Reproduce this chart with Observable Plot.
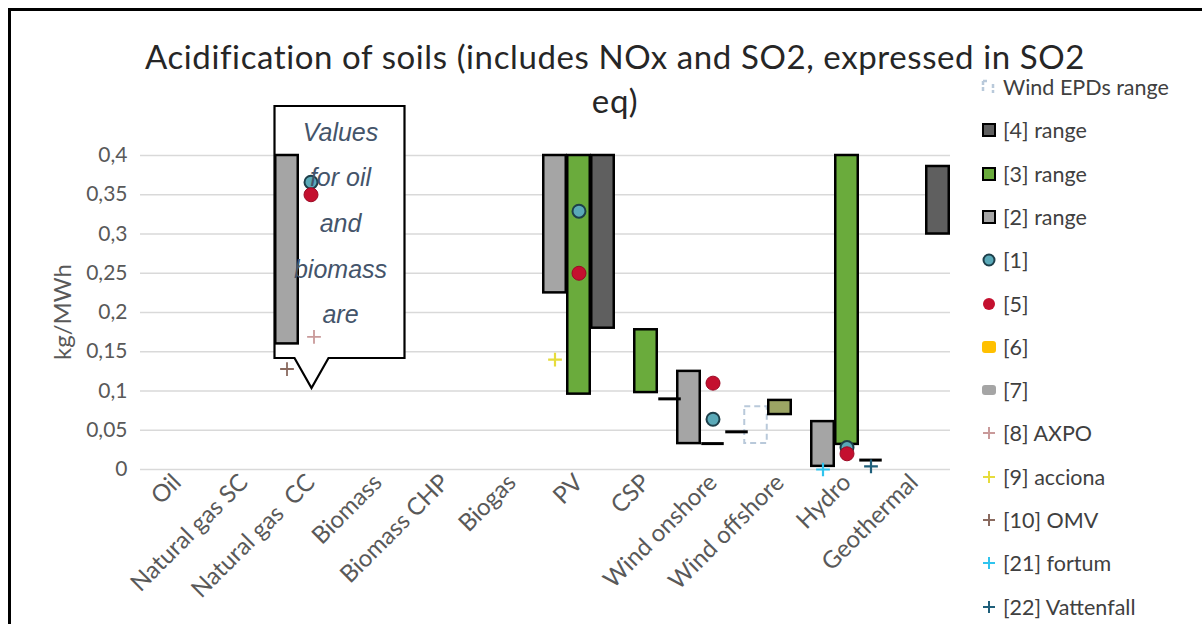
<!DOCTYPE html>
<html>
<head>
<meta charset="utf-8">
<script src="https://cdn.jsdelivr.net/npm/d3@7"></script>
<script src="https://cdn.jsdelivr.net/npm/@observablehq/plot@0.6"></script>
<style>
  html, body { margin: 0; padding: 0; background: #fff; }
  #wrap { position: relative; width: 1202px; height: 624px; overflow: hidden; font-family: Lato, "Open Sans", sans-serif; }
  #frame { position: absolute; left: 8px; top: 8px; width: 1200px; height: 620px; border-top: 3px solid #000; border-left: 3px solid #000; }
  .title { position: absolute; left: 0; width: 1230px; text-align: center; font-size: 33px; letter-spacing: 0.6px; color: #262626; line-height: 1; white-space: nowrap; }
  #ylabel { position: absolute; left: 62px; top: 312px; transform: translate(-50%, -50%) rotate(-90deg); font-size: 24px; color: #595959; white-space: nowrap; line-height: 1; }
  #legend { position: absolute; left: 978px; top: 0; }
  .li { position: absolute; left: 0; height: 26px; display: flex; align-items: center; font-size: 21.5px; color: #404040; white-space: nowrap; }
  .li svg { width: 22px; height: 22px; margin-right: 3px; }
  #chart { position: absolute; left: 0; top: 0; }
</style>
</head>
<body>
<div id="wrap">
  <div id="frame"></div>
  <div id="chart"></div>
  <div class="title" style="top:40px">Acidification of soils (includes NOx and SO2, expressed in SO2</div>
  <div class="title" style="top:84px">eq)</div>
  <div id="ylabel">kg/MWh</div>
  <div id="legend"></div>
</div>
<script>
// ---- categories ----
const categories = ["Oil", "Natural gas SC", "Natural gas\u00a0 CC", "Biomass", "Biomass CHP", "Biogas", "PV", "CSP", "Wind onshore", "Wind offshore", "Hydro", "Geothermal"];
const yTicks = [0, 0.05, 0.1, 0.15, 0.2, 0.25, 0.3, 0.35, 0.4];

// ---- range series (low / high) ----
const range2Cats = ["Natural gas\u00a0 CC", "PV", "Wind onshore", "Hydro"];
const range2Low  = [0.16, 0.225, 0.033, 0.004];
const range2High = [0.40, 0.40, 0.125, 0.061];

const range3Cats = ["PV", "CSP", "Wind onshore", "Wind offshore", "Hydro"];
const range3Low  = [0.096, 0.098, 0.033, 0.070, 0.032];
const range3High = [0.40, 0.178, 0.033, 0.088, 0.40];

const range4Cats = ["PV", "CSP", "Wind onshore", "Hydro", "Geothermal"];
const range4Low  = [0.18, 0.09, 0.048, 0.012, 0.30];
const range4High = [0.40, 0.09, 0.048, 0.012, 0.386];

const epdCats = ["Wind offshore"];
const epdLow  = [0.033];
const epdHigh = [0.080];

// ---- point series ----
const s1Cats = ["Natural gas\u00a0 CC", "PV", "Wind onshore", "Hydro"];
const s1Vals = [0.366, 0.329, 0.064, 0.028];
const s5Cats = ["Natural gas\u00a0 CC", "PV", "Wind onshore", "Hydro"];
const s5Vals = [0.35, 0.25, 0.11, 0.02];
const axpoCats = ["Natural gas\u00a0 CC"];
const axpoVals = [0.169];
const accionaCats = ["PV"];
const accionaVals = [0.14];
const omvCats = ["Natural gas\u00a0 CC"];
const omvVals = [0.128];
const fortumCats = ["Hydro"];
const fortumVals = [0.0];
const vattenfallCats = ["Hydro"];
const vattenfallVals = [0.004];

const calloutCat = "Natural gas\u00a0 CC";
const calloutLines = ["Values", "for oil", "and", "biomass", "are"];

// ---- helpers ----
const zipR = (c, lo, hi) => c.map((cat, i) => ({cat, low: lo[i], high: hi[i]}));
const zipP = (c, v) => c.map((cat, i) => ({cat, v: v[i]}));
const r2 = zipR(range2Cats, range2Low, range2High);
const r3 = zipR(range3Cats, range3Low, range3High);
const r4 = zipR(range4Cats, range4Low, range4High);
const epd = zipR(epdCats, epdLow, epdHigh);

const C = {
  r2: "#a5a5a5", r3: "#6aab3c", r3b: "#9ca564", r4: "#5f5f5f", epd: "#b9c9da",
  s1: "#5aa9b8", s1s: "#1d3f4a", s5: "#c4102f", s6: "#ffc000", s7: "#a5a5a5",
  axpo: "#c99a9a", acciona: "#e6dc3c", omv: "#8a6a5f", fortum: "#2fc4ee", vattenfall: "#1f5f7a"
};

const SLOT = 24;
const BARW = 23;
const INSET = (67.5 - BARW) / 2;
const fmt = d => String(d).replace(".", ",");

function rangeMarks(data, fill, dx) {
  return [
    Plot.barY(data.filter(d => d.high > d.low), {
      x: "cat", y1: "low", y2: "high", fill, stroke: "#000", strokeWidth: 2.5,
      insetLeft: INSET, insetRight: INSET, dx
    }),
    Plot.tickY(data.filter(d => d.high === d.low), {
      x: "cat", y: "low", stroke: "#000", strokeWidth: 3,
      insetLeft: INSET, insetRight: INSET, dx
    })
  ];
}

function calloutBox(index, scales, values, dimensions) {
  const x = scales.x;
  const bw = x.bandwidth ? x.bandwidth() : 0;
  const cx = x(calloutCat) + bw / 2;
  const top = dimensions.marginTop - 49;
  const bot = dimensions.marginTop + 203;
  const L = cx - 36, R = cx + 94;
  const g = d3.create("svg:g");
  g.append("path")
    .attr("d", `M${L},${top}H${R}V${bot}H${cx + 18}L${cx + 1},${bot + 30}L${cx - 16},${bot}H${L}Z`)
    .attr("fill", "#fff").attr("stroke", "#000").attr("stroke-width", 2.2);
  return g.node();
}

function calloutText(index, scales, values, dimensions) {
  const x = scales.x;
  const bw = x.bandwidth ? x.bandwidth() : 0;
  const cx = x(calloutCat) + bw / 2;
  const top = dimensions.marginTop - 49;
  const g = d3.create("svg:g");
  calloutLines.forEach((t, i) => {
    g.append("text")
      .attr("x", cx + 30).attr("y", top + 28 + i * 45.7)
      .attr("text-anchor", "middle").attr("dominant-baseline", "middle")
      .attr("font-family", "'Liberation Sans', Arial, sans-serif")
      .attr("font-style", "italic").attr("font-size", 25)
      .attr("fill", "#44546a").text(t);
  });
  return g.node();
}

const plot = Plot.plot({
  width: 1202, height: 624,
  marginLeft: 140, marginRight: 252, marginTop: 155, marginBottom: 155,
  style: {background: "transparent", fontFamily: "Lato, 'Open Sans', sans-serif", color: "#595959", overflow: "visible"},
  x: {type: "band", domain: categories, paddingInner: 0, paddingOuter: 0},
  y: {domain: [0, 0.4]},
  marks: [
    Plot.gridY(yTicks, {stroke: "#d9d9d9", strokeOpacity: 1, strokeWidth: 1.3}),
    calloutBox,
    Plot.axisY(yTicks, {tickFormat: fmt, tickSize: 0, tickPadding: 13, fontSize: 21, label: null}),
    Plot.axisX({tickSize: 0, tickPadding: 9, tickRotate: -45, fontSize: 24, label: null}),
    Plot.barY(epd, {x: "cat", y1: "low", y2: "high", fill: "none", stroke: C.epd, strokeWidth: 2,
      strokeDasharray: "6,4", insetLeft: INSET, insetRight: INSET, dx: -SLOT}),
    ...rangeMarks(r2, C.r2, -SLOT),
    ...rangeMarks(r3.filter(d => d.cat !== "Wind offshore"), C.r3, 0),
    ...rangeMarks(r3.filter(d => d.cat === "Wind offshore"), C.r3b, 0),
    ...rangeMarks(r4, C.r4, SLOT),
    Plot.dot(zipP(s1Cats, s1Vals), {x: "cat", y: "v", r: 6.5, fill: C.s1, stroke: C.s1s, strokeWidth: 2}),
    Plot.dot(zipP(s5Cats, s5Vals), {x: "cat", y: "v", r: 7, fill: C.s5, stroke: "#9c0a25", strokeWidth: 1}),
    Plot.dot(zipP(axpoCats, axpoVals), {x: "cat", y: "v", symbol: "plus", r: 4.5, stroke: C.axpo, strokeWidth: 1.8, dx: 3}),
    Plot.dot(zipP(omvCats, omvVals), {x: "cat", y: "v", symbol: "plus", r: 4.5, stroke: C.omv, strokeWidth: 1.8, dx: -SLOT}),
    Plot.dot(zipP(accionaCats, accionaVals), {x: "cat", y: "v", symbol: "plus", r: 4.5, stroke: C.acciona, strokeWidth: 2.2, dx: -SLOT}),
    Plot.dot(zipP(fortumCats, fortumVals), {x: "cat", y: "v", symbol: "plus", r: 4.5, stroke: C.fortum, strokeWidth: 2.2, dx: -SLOT}),
    Plot.dot(zipP(vattenfallCats, vattenfallVals), {x: "cat", y: "v", symbol: "plus", r: 4.5, stroke: C.vattenfall, strokeWidth: 2.2, dx: SLOT}),
    calloutText
  ]
});
document.getElementById("chart").appendChild(plot);

// ---- legend ----
const legendItems = [
  {label: "Wind EPDs range", icon: `<path d="M5,5 V17 M5,5 H10 M15,8 V17" stroke="${C.epd}" stroke-width="2.5" fill="none" stroke-dasharray="4,2"/>`},
  {label: "[4] range", icon: `<rect x="5" y="5" width="12" height="12" fill="${C.r4}" stroke="#000" stroke-width="2"/>`},
  {label: "[3] range", icon: `<rect x="5" y="5" width="12" height="12" fill="${C.r3}" stroke="#000" stroke-width="2"/>`},
  {label: "[2] range", icon: `<rect x="5" y="5" width="12" height="12" fill="${C.r2}" stroke="#000" stroke-width="2"/>`},
  {label: "[1]", icon: `<circle cx="11" cy="11" r="5.5" fill="${C.s1}" stroke="${C.s1s}" stroke-width="2"/>`},
  {label: "[5]", icon: `<circle cx="11" cy="11" r="6" fill="${C.s5}"/>`},
  {label: "[6]", icon: `<rect x="4" y="5" width="14" height="12" rx="3" fill="${C.s6}"/>`},
  {label: "[7]", icon: `<rect x="4" y="6" width="14" height="10" rx="3" fill="${C.s7}"/>`},
  {label: "[8] AXPO", icon: `<path d="M5,11H17M11,5V17" stroke="${C.axpo}" stroke-width="2"/>`},
  {label: "[9] acciona", icon: `<path d="M5,11H17M11,5V17" stroke="${C.acciona}" stroke-width="2"/>`},
  {label: "[10] OMV", icon: `<path d="M5,11H17M11,5V17" stroke="${C.omv}" stroke-width="2"/>`},
  {label: "[21] fortum", icon: `<path d="M5,11H17M11,5V17" stroke="${C.fortum}" stroke-width="2"/>`},
  {label: "[22] Vattenfall", icon: `<path d="M5,11H17M11,5V17" stroke="${C.vattenfall}" stroke-width="2"/>`}
];
const leg = document.getElementById("legend");
legendItems.forEach((it, i) => {
  const div = document.createElement("div");
  div.className = "li";
  div.style.top = (87 + i * 43.3 - 13) + "px";
  div.innerHTML = `<svg viewBox="0 0 22 22">${it.icon}</svg><span>${it.label}</span>`;
  leg.appendChild(div);
});
</script>
</body>
</html>
